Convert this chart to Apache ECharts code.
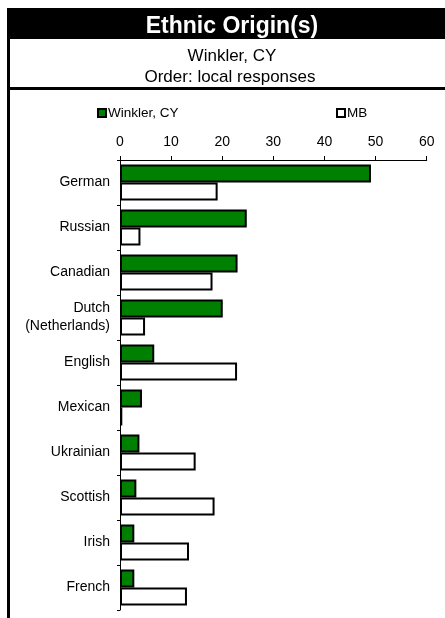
<!DOCTYPE html>
<html>
<head>
<meta charset="utf-8">
<script src="https://cdn.jsdelivr.net/npm/echarts@6/dist/echarts.min.js"></script>
<style>
html,body{margin:0;padding:0;background:#fff;}
#chart{width:445px;height:618px;}
</style>
</head>
<body>
<div id="chart"></div>
<script>
const categories = ["German", "Russian", "Canadian", "Dutch\n(Netherlands)", "English", "Mexican", "Ukrainian", "Scottish", "Irish", "French"];
const localValues = [49.1, 24.8, 23.0, 20.1, 6.7, 4.3, 3.8, 3.2, 2.8, 2.8];
const mbValues = [19.1, 4.0, 18.1, 4.9, 22.9, 0.45, 14.8, 18.5, 13.5, 13.1];
const localName = "Winkler, CY";
const mbName = "MB";
const titleText = "Ethnic Origin(s)";
const subtitle1 = "Winkler, CY";
const subtitle2 = "Order: local responses";

const chart = echarts.init(document.getElementById('chart'));
const font = 'Liberation Sans, Arial, sans-serif';
chart.setOption({
  animation: false,
  backgroundColor: '#fff',
  textStyle: { fontFamily: font },
  graphic: [
    { type: 'rect', shape: { x: 7, y: 8, width: 438, height: 31 }, style: { fill: '#000' } },
    { type: 'rect', shape: { x: 7, y: 8, width: 3, height: 610 }, style: { fill: '#000' } },
    { type: 'rect', shape: { x: 7, y: 87, width: 438, height: 3 }, style: { fill: '#000' } }
  ],
  title: [
    { text: titleText, left: 227, top: 10, textAlign: 'center',
      textStyle: { color: '#fff', fontSize: 23, fontWeight: 'bold', fontFamily: font } },
    { text: subtitle1, left: 227, top: 43, textAlign: 'center',
      textStyle: { color: '#000', fontSize: 17, fontWeight: 'normal', fontFamily: font } },
    { text: subtitle2, left: 225, top: 64, textAlign: 'center',
      textStyle: { color: '#000', fontSize: 17, fontWeight: 'normal', fontFamily: font } }
  ],
  legend: [
    { data: [localName], left: 92, top: 101, icon: 'rect', itemWidth: 8, itemHeight: 8, itemGap: 2,
      textStyle: { fontSize: 13.5, color: '#000', fontFamily: font, padding: [0,0,0,-3] } },
    { data: [mbName], left: 331, top: 101, icon: 'rect', itemWidth: 8, itemHeight: 8,
      textStyle: { fontSize: 13.5, color: '#000', fontFamily: font, padding: [0,0,0,-3] } }
  ],
  grid: { left: 120, top: 160, right: 18.3, bottom: 8, containLabel: false },
  xAxis: {
    type: 'value', position: 'top', min: 0, max: 60, interval: 10,
    axisLine: { show: true, lineStyle: { color: '#000', width: 1 } },
    axisTick: { show: true, length: 4, lineStyle: { color: '#000' } },
    axisLabel: { margin: 11, fontSize: 14, color: '#000', fontFamily: font },
    splitLine: { show: false }
  },
  yAxis: {
    type: 'category', inverse: true, data: categories,
    axisLine: { show: true, lineStyle: { color: '#000', width: 1 } },
    axisTick: { show: true, length: 3, lineStyle: { color: '#000' } },
    axisLabel: { margin: 10, fontSize: 14, color: '#000', fontFamily: font, lineHeight: 18 }
  },
  series: [
    { name: localName, type: 'bar', data: localValues, barWidth: 18, barGap: '0%',
      itemStyle: { color: '#008000', borderColor: '#000', borderWidth: 2 } },
    { name: mbName, type: 'bar', data: mbValues, barWidth: 18,
      itemStyle: { color: '#fff', borderColor: '#000', borderWidth: 2 } }
  ]
});
</script>
</body>
</html>
